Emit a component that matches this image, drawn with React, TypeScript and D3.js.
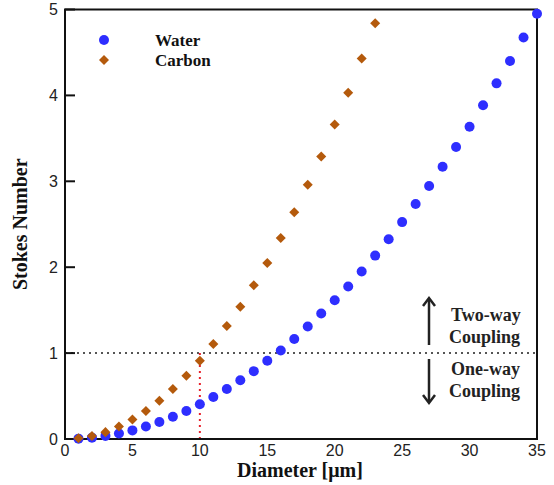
import React from "react";
import * as d3 from "d3";

const waterDiam = [1,2,3,4,5,6,7,8,9,10,11,12,13,14,15,16,17,18,19,20,21,22,23,24,25,26,27,28,29,30,31,32,33,34,35];
const waterStokes = [0.004,0.016,0.036,0.065,0.1,0.145,0.198,0.259,0.327,0.404,0.489,0.582,0.683,0.79,0.91,1.03,1.165,1.31,1.46,1.615,1.775,1.95,2.135,2.325,2.525,2.735,2.945,3.17,3.4,3.635,3.885,4.14,4.4,4.675,4.95];
const carbonDiam = [1,2,3,4,5,6,7,8,9,10,11,12,13,14,15,16,17,18,19,20,21,22,23];
const carbonStokes = [0.009,0.036,0.08,0.145,0.228,0.327,0.446,0.582,0.737,0.91,1.105,1.315,1.54,1.79,2.05,2.34,2.64,2.96,3.29,3.66,4.03,4.43,4.84];
const xTicks = [0,5,10,15,20,25,30,35];
const yTicks = [0,1,2,3,4,5];

const W = 554, H = 485;
const L = 65, R = 537, T = 9.5, B = 439;

export default function App() {
  const x = d3.scaleLinear().domain([0, 35]).range([L, R]);
  const y = d3.scaleLinear().domain([0, 5]).range([B, T]);
  const diamond = d3.symbol().type(d3.symbolDiamond2).size(64)();
  const blue = "#2e2eff";
  const brown = "#b45a0c";
  const serif = "'Liberation Serif', 'Times New Roman', serif";
  const sans = "'Liberation Sans', Arial, sans-serif";
  return (
    <svg width={W} height={H} style={{ position: "absolute", left: 0, top: 0 }}>
      <rect x={0} y={0} width={W} height={H} fill="#fff" />
      {/* threshold line */}
      <line x1={x(0)} x2={x(35)} y1={y(1)} y2={y(1)} stroke="#555" strokeWidth={2} strokeDasharray="2,4" />
      <line x1={x(10)} x2={x(10)} y1={y(1)} y2={y(0)} stroke="#e8202a" strokeWidth={2} strokeDasharray="2,4" />
      {/* frame */}
      <rect x={L} y={T} width={R - L} height={B - T} fill="none" stroke="#111" strokeWidth={2} />
      {yTicks.map((t) => (
        <g key={"y" + t}>
          <line x1={L} x2={L + 10} y1={y(t)} y2={y(t)} stroke="#111" strokeWidth={2} />
          <text x={L - 7} y={y(t)} dy="0.36em" textAnchor="end" fontFamily={sans} fontSize={16} fill="#222">{t}</text>
        </g>
      ))}
      {xTicks.map((t) => (
        <text key={"x" + t} x={x(t)} y={B + 17} textAnchor="middle" fontFamily={sans} fontSize={16} fill="#222">{t}</text>
      ))}
      <text x={300} y={477} textAnchor="middle" fontFamily={serif} fontWeight="bold" fontSize={20} fill="#111">Diameter [μm]</text>
      <text transform={`translate(27,${(T + B) / 2}) rotate(-90)`} textAnchor="middle" fontFamily={serif} fontWeight="bold" fontSize={20} fill="#111">Stokes Number</text>
      {/* data */}
      {waterDiam.map((d, i) => (
        <circle key={"w" + i} cx={x(d)} cy={y(waterStokes[i])} r={5} fill={blue} />
      ))}
      {carbonDiam.map((d, i) => (
        <path key={"c" + i} d={diamond as string} transform={`translate(${x(d)},${y(carbonStokes[i])})`} fill={brown} />
      ))}
      {/* legend */}
      <circle cx={104} cy={40} r={5} fill={blue} />
      <text x={155} y={40} dy="0.35em" fontFamily={serif} fontWeight="bold" fontSize={17} fill="#111">Water</text>
      <path d={diamond as string} transform="translate(104,60)" fill={brown} />
      <text x={155} y={60} dy="0.35em" fontFamily={serif} fontWeight="bold" fontSize={17} fill="#111">Carbon</text>
      {/* arrows */}
      <g stroke="#222" strokeWidth={2.5} fill="none">
        <line x1={429} x2={429} y1={345} y2={299} />
        <polyline points="423,306 429,298 435,306" />
        <line x1={429} x2={429} y1={359} y2={402} />
        <polyline points="423,395 429,403 435,395" />
      </g>
      <g fontFamily={serif} fontWeight="bold" fontSize={18} fill="#222">
        <text x={451} y={315} dy="0.35em">Two-way</text>
        <text x={449} y={337} dy="0.35em">Coupling</text>
        <text x={451} y={369} dy="0.35em">One-way</text>
        <text x={449} y={391} dy="0.35em">Coupling</text>
      </g>
    </svg>
  );
}
